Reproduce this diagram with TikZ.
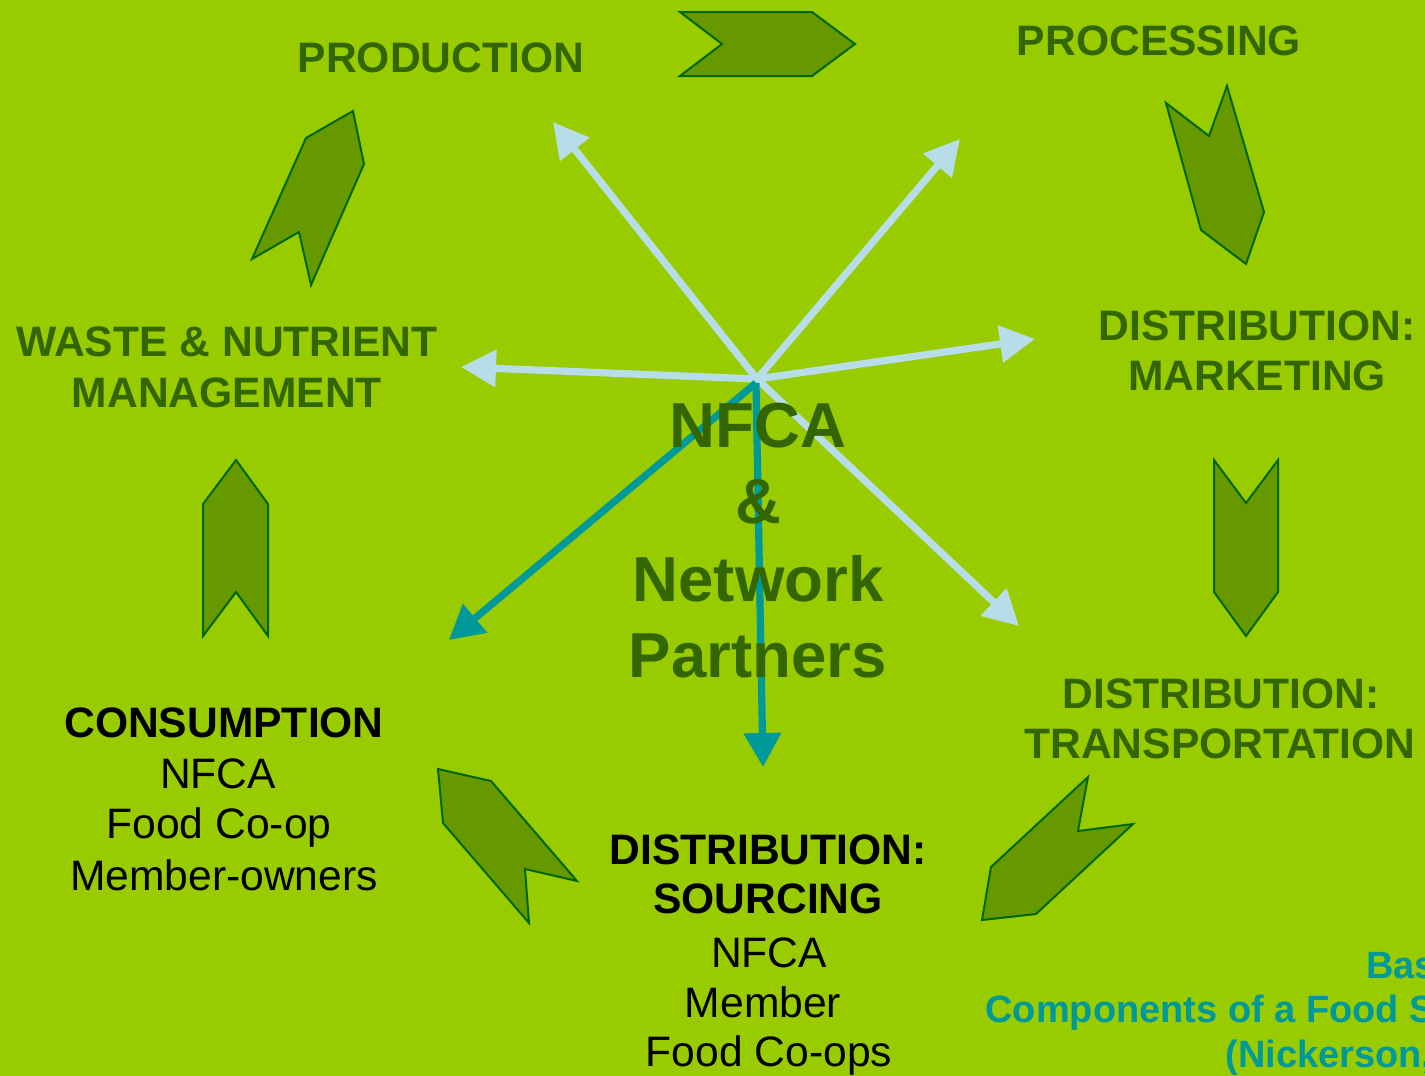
\documentclass[tikz,border=0pt]{standalone}
\usepackage{fontspec}
\setmainfont{Liberation Sans}
\usetikzlibrary{arrows.meta}
\definecolor{bggreen}{HTML}{99CC00}
\definecolor{chevfill}{HTML}{669900}
\definecolor{chevline}{HTML}{006600}
\definecolor{headgreen}{HTML}{336600}
\definecolor{lblue}{HTML}{B7DEE8}
\definecolor{tealc}{HTML}{009999}
\tikzset{
  chev/.style={fill=chevfill, draw=chevline, line width=1pt, line join=miter},
  headtxt/.style={anchor=base, inner sep=0pt, text=headgreen, font=\bfseries\fontsize{21.3}{25}\selectfont},
  blkbold/.style={anchor=base, inner sep=0pt, text=black, font=\bfseries\fontsize{21.3}{25}\selectfont},
  blkreg/.style={anchor=base, inner sep=0pt, text=black, font=\fontsize{21.3}{25}\selectfont},
  hubtxt/.style={anchor=base, inner sep=0pt, text=headgreen, font=\bfseries\fontsize{31.8}{38}\selectfont},
  srctxt/.style={anchor=base west, inner sep=0pt, text=tealc, font=\bfseries\fontsize{19}{22}\selectfont},
  lbarrow/.style={draw=lblue, line width=3.6pt, -{Triangle[length=17.5pt,width=18pt]}},
  tlarrow/.style={draw=tealc, line width=3.6pt, -{Triangle[length=17pt,width=18pt]}}
}
\begin{document}
\begin{tikzpicture}[x=0.5pt,y=-0.5pt]
\clip (0,0) rectangle (1425,1076);
\fill[bggreen] (0,0) rectangle (1425,1076);

% chevrons (cycle)
\draw[chev] (680,12) -- (812,12) -- (855,44) -- (812,76) -- (680,76) -- (722,44) -- cycle;
\draw[chev] (1166,103) -- (1209,136) -- (1227,86) -- (1264,212) -- (1246,264) -- (1201,230) -- cycle;
\draw[chev] (1214,460) -- (1246,503) -- (1278,460) -- (1278,592) -- (1246,636) -- (1214,592) -- cycle;
\draw[chev] (1088,777) -- (1078,831) -- (1133,824) -- (1036,914) -- (982,920) -- (991,867) -- cycle;
\draw[chev] (438,769) -- (491,781) -- (577,881) -- (525,869) -- (529,923) -- (443,823) -- cycle;
\draw[chev] (236,460) -- (268,504) -- (268,636) -- (236,592) -- (203,636) -- (203,504) -- cycle;
\draw[chev] (353,111) -- (364,164) -- (311,285) -- (299,232) -- (252,259) -- (306,138) -- cycle;

% hub and arrow tips
\coordinate (hub) at (757,379);
\coordinate (hubt) at (756,383);
\coordinate (tProd) at (553,122);
\coordinate (tProc) at (960,139);
\coordinate (tMkt) at (1035,339);
\coordinate (tWaste) at (461,367);
\coordinate (tTrans) at (1019,626);
\coordinate (tCons) at (449,640);
\coordinate (tSrc) at (763,767);

\draw[lbarrow] (hub) -- (tProd);
\draw[lbarrow] (hub) -- (tProc);
\draw[lbarrow] (hub) -- (tMkt);
\draw[lbarrow] (hub) -- (tWaste);
\draw[lbarrow] (hub) -- (tTrans);
\draw[tlarrow] (hubt) -- (tCons);
\draw[tlarrow] (hubt) -- (tSrc);

% stage labels
\node[headtxt] (prod) at (441,72) {PRODUCTION};
\node[headtxt] (proc) at (1159,55) {PROCESSING};
\node[headtxt] (mktA) at (1257,340) {DISTRIBUTION:};
\node[headtxt] (mktB) at (1257,390) {MARKETING};
\node[headtxt] (wasteA) at (227,356) {WASTE \& NUTRIENT};
\node[headtxt] (wasteB) at (227,407) {MANAGEMENT};
\node[headtxt] (trA) at (1221,708) {DISTRIBUTION:};
\node[headtxt] (trB) at (1220,758) {TRANSPORTATION};

\node[blkbold] (consA) at (224,737) {CONSUMPTION};
\node[blkreg] (consB) at (218,788) {NFCA};
\node[blkreg] (consC) at (219,838) {Food Co-op};
\node[blkreg] (consD) at (224,890) {Member-owners};

\node[blkbold] (srcA) at (768,864) {DISTRIBUTION:};
\node[blkbold] (srcB) at (768,913) {SOURCING};
\node[blkreg] (srcC) at (769,967) {NFCA};
\node[blkreg] (srcD) at (763,1017) {Member};
\node[blkreg] (srcE) at (769,1066) {Food Co-ops};

% hub label
\node[hubtxt] (hubA) at (758,447) {NFCA};
\node[hubtxt] (hubB) at (758,523) {\&};
\node[hubtxt] (hubC) at (758,601) {Network};
\node[hubtxt] (hubD) at (758,677) {Partners};

% source note (cut at right edge, as in the reference)
\node[srctxt] (noteA) at (1366,978) {Bas};
\node[srctxt] (noteB) at (985,1022) {Components of a Food S};
\node[srctxt] (noteC) at (1225,1067) {(Nickerson,};
\end{tikzpicture}
\end{document}
